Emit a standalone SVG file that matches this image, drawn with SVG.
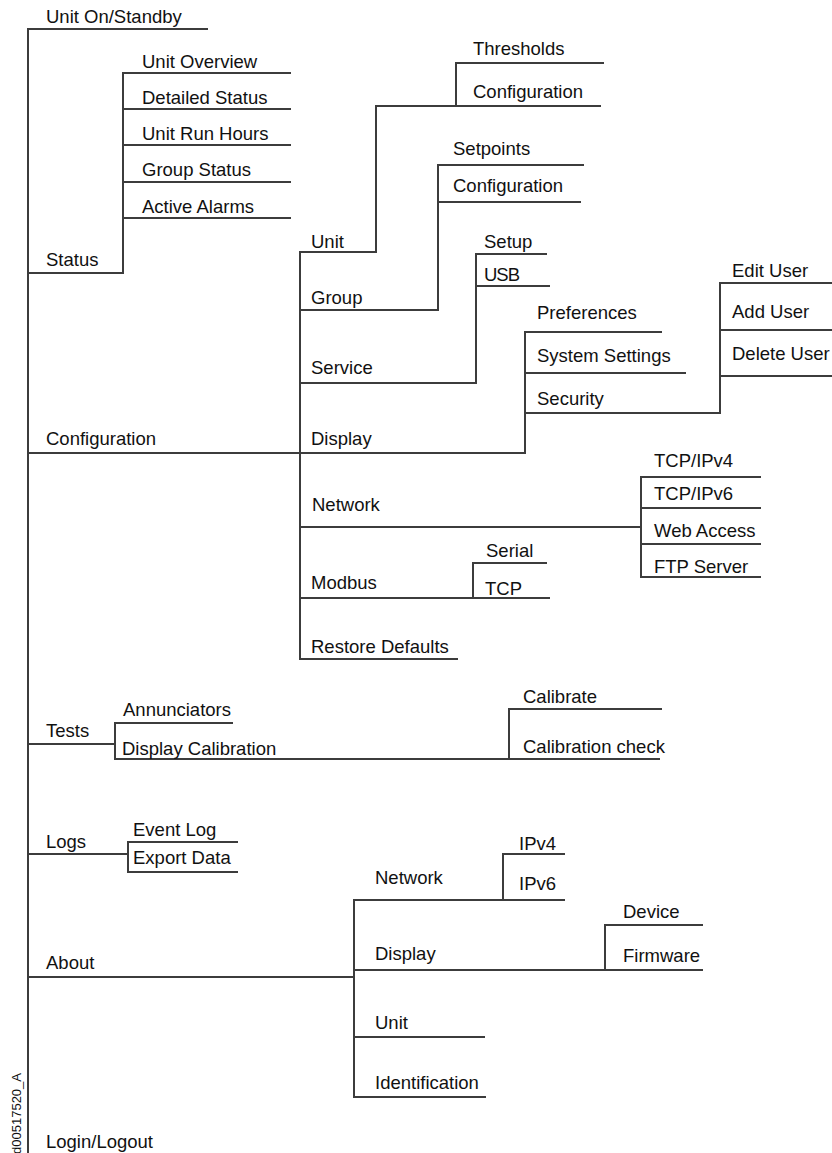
<svg xmlns="http://www.w3.org/2000/svg" width="832" height="1153" viewBox="0 0 832 1153">
<style>
text{font-family:"Liberation Sans",Arial,sans-serif;font-size:18.5px;fill:#111}
.c path{fill:none;stroke:#3c3c3c;stroke-width:2;stroke-linecap:square}
.id{font-size:13px}
</style>
<rect width="832" height="1153" fill="#fff"/>
<g class="c" id="connectors">
<path d="M28 29V1153M28 29H207"/>
<path d="M28 273H123V73H290M123 109H290M123 145H290M123 182H290M123 218H290"/>
<path d="M28 453H300M300 252V659"/>
<path d="M300 252H376V106H600M456 106V63H603"/>
<path d="M300 310H438V165H583M438 202H580"/>
<path d="M300 383H476V254H546M476 286H549"/>
<path d="M300 453H525V332H661M525 373H685M525 413H720V283H832M720 330H832M720 376H832"/>
<path d="M300 527H641M641 477V577M641 477H760M641 508H760M641 544H760M641 577H760"/>
<path d="M300 598H473V563H546M473 598H549"/>
<path d="M300 659H457"/>
<path d="M28 744H115M115 723V759M115 723H232M115 759H509V709H661M509 759H659"/>
<path d="M28 854H128M128 842V872M128 842H237M128 872H237"/>
<path d="M28 977H354M354 900V1097M354 900H503V854H564M503 900H564M354 970H605V925H702M605 970H702M354 1037H484M354 1097H485"/>
</g>
<g id="n-unit-on"><text x="46" y="23">Unit On/Standby</text></g>
<g id="n-status"><text x="46" y="266">Status</text></g>
<g id="n-unit-overview"><text x="142" y="68">Unit Overview</text></g>
<g id="n-detailed-status"><text x="142" y="104">Detailed Status</text></g>
<g id="n-unit-run-hours"><text x="142" y="140">Unit Run Hours</text></g>
<g id="n-group-status"><text x="142" y="176">Group Status</text></g>
<g id="n-active-alarms"><text x="142" y="213">Active Alarms</text></g>
<g id="n-configuration"><text x="46" y="445">Configuration</text></g>
<g id="n-cfg-unit"><text x="311" y="248">Unit</text></g>
<g id="n-cfg-group"><text x="311" y="304">Group</text></g>
<g id="n-cfg-service"><text x="311" y="374">Service</text></g>
<g id="n-cfg-display"><text x="311" y="445">Display</text></g>
<g id="n-cfg-network"><text x="312" y="511">Network</text></g>
<g id="n-cfg-modbus"><text x="311" y="589">Modbus</text></g>
<g id="n-cfg-restore"><text x="311" y="653">Restore Defaults</text></g>
<g id="n-thresholds"><text x="473" y="55">Thresholds</text></g>
<g id="n-unit-configuration"><text x="473" y="98">Configuration</text></g>
<g id="n-setpoints"><text x="453" y="155">Setpoints</text></g>
<g id="n-group-configuration"><text x="453" y="192">Configuration</text></g>
<g id="n-setup"><text x="484" y="248">Setup</text></g>
<g id="n-usb"><text x="484" y="281" letter-spacing="-1">USB</text></g>
<g id="n-preferences"><text x="537" y="319">Preferences</text></g>
<g id="n-system-settings"><text x="537" y="362">System Settings</text></g>
<g id="n-security"><text x="537" y="405">Security</text></g>
<g id="n-edit-user"><text x="732" y="277">Edit User</text></g>
<g id="n-add-user"><text x="732" y="318">Add User</text></g>
<g id="n-delete-user"><text x="732" y="360">Delete User</text></g>
<g id="n-tcpipv4"><text x="654" y="467">TCP/IPv4</text></g>
<g id="n-tcpipv6"><text x="654" y="500">TCP/IPv6</text></g>
<g id="n-web-access"><text x="654" y="537">Web Access</text></g>
<g id="n-ftp-server"><text x="654" y="573">FTP Server</text></g>
<g id="n-serial"><text x="486" y="557">Serial</text></g>
<g id="n-tcp"><text x="485" y="595">TCP</text></g>
<g id="n-tests"><text x="46" y="737">Tests</text></g>
<g id="n-annunciators"><text x="123" y="716">Annunciators</text></g>
<g id="n-display-calibration"><text x="122" y="755">Display Calibration</text></g>
<g id="n-calibrate"><text x="523" y="703">Calibrate</text></g>
<g id="n-calibration-check"><text x="523" y="753">Calibration check</text></g>
<g id="n-logs"><text x="46" y="848">Logs</text></g>
<g id="n-event-log"><text x="133" y="836">Event Log</text></g>
<g id="n-export-data"><text x="133" y="864">Export Data</text></g>
<g id="n-about"><text x="46" y="969">About</text></g>
<g id="n-about-network"><text x="375" y="884">Network</text></g>
<g id="n-about-display"><text x="375" y="960">Display</text></g>
<g id="n-about-unit"><text x="375" y="1029">Unit</text></g>
<g id="n-identification"><text x="375" y="1089">Identification</text></g>
<g id="n-ipv4"><text x="519" y="850">IPv4</text></g>
<g id="n-ipv6"><text x="519" y="890">IPv6</text></g>
<g id="n-device"><text x="623" y="918">Device</text></g>
<g id="n-firmware"><text x="623" y="962">Firmware</text></g>
<g id="n-login"><text x="46" y="1148">Login/Logout</text></g>
<g id="figure-id"><text class="id" transform="translate(21 1073) rotate(-90)" text-anchor="end">d00517520_A</text></g>
</svg>
